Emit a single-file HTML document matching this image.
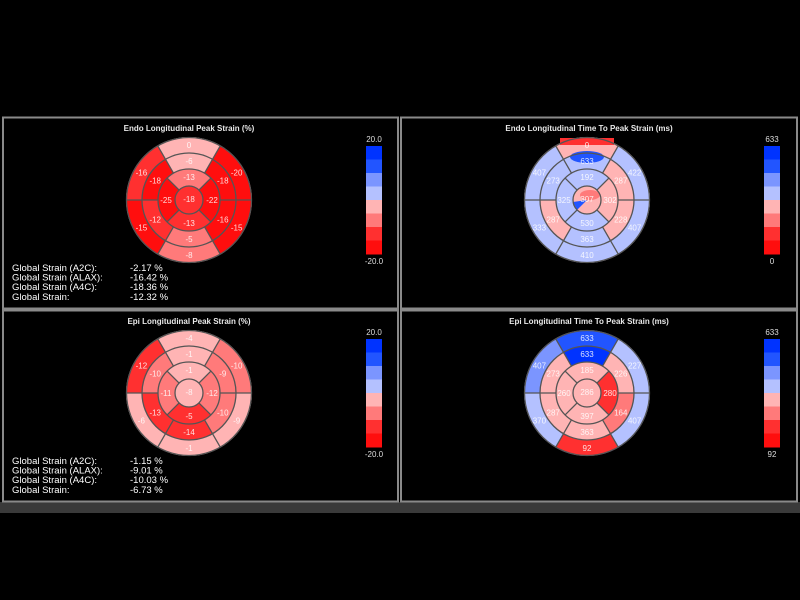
<!DOCTYPE html>
<html><head><meta charset="utf-8"><style>
html,body{margin:0;padding:0;background:#000;width:800px;height:600px;overflow:hidden}
svg{display:block}
text{font-family:"Liberation Sans",sans-serif}
</style></head><body>
<svg id="s" width="800" height="600" xmlns="http://www.w3.org/2000/svg">
<rect width="800" height="600" fill="#000"/>
<rect x="0" y="502" width="800" height="11" fill="#3a3a3a"/>
<rect x="3" y="117.5" width="395" height="191" fill="none" stroke="#8a8a8a" stroke-width="2"/>
<rect x="401" y="117.5" width="396" height="191" fill="none" stroke="#8a8a8a" stroke-width="2"/>
<rect x="3" y="310.5" width="395" height="191" fill="none" stroke="#8a8a8a" stroke-width="2"/>
<rect x="401" y="310.5" width="396" height="191" fill="none" stroke="#8a8a8a" stroke-width="2"/>
<g id="g"></g>
</svg>
<script>
var NS="http://www.w3.org/2000/svg",G=document.getElementById('g');
function el(t,a,txt){var e=document.createElementNS(NS,t);for(var k in a)e.setAttribute(k,a[k]);if(txt!=null)e.textContent=txt;G.appendChild(e);return e;}
function P(cx,cy,r,a){a=a*Math.PI/180;return [cx+r*Math.cos(a),cy+r*Math.sin(a)];}
function sector(cx,cy,r0,r1,a0,a1,fill){
 var p1=P(cx,cy,r1,a0),p2=P(cx,cy,r1,a1),p3=P(cx,cy,r0,a1),p4=P(cx,cy,r0,a0),L=(a1-a0)>180?1:0;
 el('path',{d:'M'+p1+' A'+r1+','+r1+' 0 '+L+' 1 '+p2+' L'+p3+' A'+r0+','+r0+' 0 '+L+' 0 '+p4+'Z',fill:fill});
}
var R=[0,14,31,47,63];
var B=[[240,300],[300,360],[0,60],[60,120],[120,180],[180,240]];
var A=[[225,315],[315,405],[45,135],[135,225]];
var C={b:'#0033ff',b2:'#2255ff',b3:'#7b95ff',lb:'#b4c1ff',lp:'#ffb4b4',p:'#ff7a7a',r2:'#ff3030',r:'#ff0e0e'};
function bull(cx,cy,basal,mid,api,apex,bc,mc,ac,xc,ex){
 // background
 el('circle',{cx:cx,cy:cy,r:63,fill:bc[0]});
 for(var i=0;i<6;i++){sector(cx,cy,R[3],R[4],B[i][0],B[i][1],bc[i]);sector(cx,cy,R[2],R[3],B[i][0],B[i][1],mc[i]);}
 for(i=0;i<4;i++)sector(cx,cy,R[1],R[2],A[i][0],A[i][1],ac[i]);
 el('circle',{cx:cx,cy:cy,r:14,fill:xc});
 if(ex)ex(cx,cy);
 var st={stroke:'#555','stroke-width':1.3,fill:'none'};
 [14,31,47,62.5].forEach(function(r){el('circle',Object.assign({cx:cx,cy:cy,r:r},st));});
 [0,60,120,180,240,300].forEach(function(a){var p=P(cx,cy,31,a),q=P(cx,cy,63,a);el('line',Object.assign({x1:p[0],y1:p[1],x2:q[0],y2:q[1]},st));});
 [45,135,225,315].forEach(function(a){var p=P(cx,cy,14,a),q=P(cx,cy,31,a);el('line',Object.assign({x1:p[0],y1:p[1],x2:q[0],y2:q[1]},st));});
 var ta={fill:'#fff','font-size':8,'text-anchor':'middle','fill-opacity':0.85};
 for(i=0;i<6;i++){var m=(B[i][0]+B[i][1])/2,p=P(cx,cy,55,m),q=P(cx,cy,39,m);
  el('text',Object.assign({x:p[0],y:p[1]+3},ta),basal[i]);el('text',Object.assign({x:q[0],y:q[1]+3},ta),mid[i]);}
 for(i=0;i<4;i++){var m2=(A[i][0]+A[i][1])/2,p2=P(cx,cy,23,m2);el('text',Object.assign({x:p2[0],y:p2[1]+3},ta),api[i]);}
 el('text',Object.assign({x:cx,y:cy+2},ta),apex);
}
function bar(x,y,top,bot){
 var cs=[C.b,C.b2,C.b3,C.lb,C.lp,C.p,C.r2,C.r];
 for(var i=0;i<8;i++)el('rect',{x:x,y:y+i*13.5,width:16,height:14,fill:cs[i]});
 el('text',{x:x+8,y:y-4,fill:'#ddd','font-size':8,'text-anchor':'middle'},top);
 el('text',{x:x+8,y:y+118,fill:'#ddd','font-size':8,'text-anchor':'middle'},bot);
}
function title(x,y,t){el('text',{x:x,y:y,fill:'#e8e8e8','font-size':8,'font-weight':'bold','text-anchor':'middle'},t);}
function glob(y,vals){var l=['Global Strain (A2C):','Global Strain (ALAX):','Global Strain (A4C):','Global Strain:'];
 for(var i=0;i<4;i++){el('text',{x:12,y:y+i*9.6,fill:'#fff','font-size':9.5},l[i]);el('text',{x:130,y:y+i*9.6,fill:'#fff','font-size':9.5},vals[i]);}}

title(189,131,'Endo Longitudinal Peak Strain (%)');
bull(189,200,['0','-20','-15','-8','-15','-16'],['-6','-18','-16','-5','-12','-18'],['-13','-22','-13','-25'],'-18',
 [C.lp,C.r,C.r,C.p,C.r,C.r2],[C.lp,C.r,C.r,C.p,C.r2,C.r],[C.p,C.r,C.r2,C.r],C.r2);
bar(366,146,'20.0','-20.0');
glob(271,['-2.17 %','-16.42 %','-18.36 %','-12.32 %']);

title(589,131,'Endo Longitudinal Time To Peak Strain (ms)');
bull(587,200,['0','422','407','410','333','407'],['633','287','228','363','287','273'],['192','302','530','325'],'307',
 [C.lp,C.lb,C.lb,C.lb,C.lb,C.lb],[C.lb,C.lp,C.lp,C.lb,C.lp,C.lb],[C.lb,C.lp,C.lb,C.lb],C.lp,
 function(cx,cy){el('path',{d:'M'+(cx-27)+','+(cy-62)+' L'+(cx+27)+','+(cy-62)+' L'+(cx+27)+','+(cy-55)+' L'+(cx-27)+','+(cy-55)+'Z',fill:C.r2});
  el('ellipse',{cx:cx,cy:cy-43,rx:17,ry:6,fill:C.b2});el('path',{d:'M'+cx+','+cy+' L'+(cx-14)+','+(cy+2)+' L'+(cx-10)+','+(cy+10)+'Z',fill:C.b2});
  el('ellipse',{cx:cx+3,cy:cy-5,rx:10,ry:5,fill:C.p});});
bar(764,146,'633','0');

title(189,324,'Epi Longitudinal Peak Strain (%)');
bull(189,393,['-4','-10','-9','-1','-6','-12'],['-1','-9','-10','-14','-13','-10'],['-1','-12','-5','-11'],'-8',
 [C.lp,C.p,C.lp,C.lp,C.lp,C.r2],[C.lp,C.p,C.p,C.r2,C.r2,C.p],[C.lp,C.p,C.r2,C.p],C.lp);
bar(366,339,'20.0','-20.0');
glob(464,['-1.15 %','-9.01 %','-10.03 %','-6.73 %']);

title(589,324,'Epi Longitudinal Time To Peak Strain (ms)');
bull(587,393,['633','227','407','92','370','407'],['633','226','164','363','287','273'],['185','280','397','260'],'286',
 [C.b2,C.lb,C.lb,C.r2,C.lb,C.b3],[C.b,C.lp,C.p,C.lp,C.lp,C.lp],[C.lp,C.r2,C.lp,C.lp],C.lp);
bar(764,339,'633','92');
</script>
</body></html>
